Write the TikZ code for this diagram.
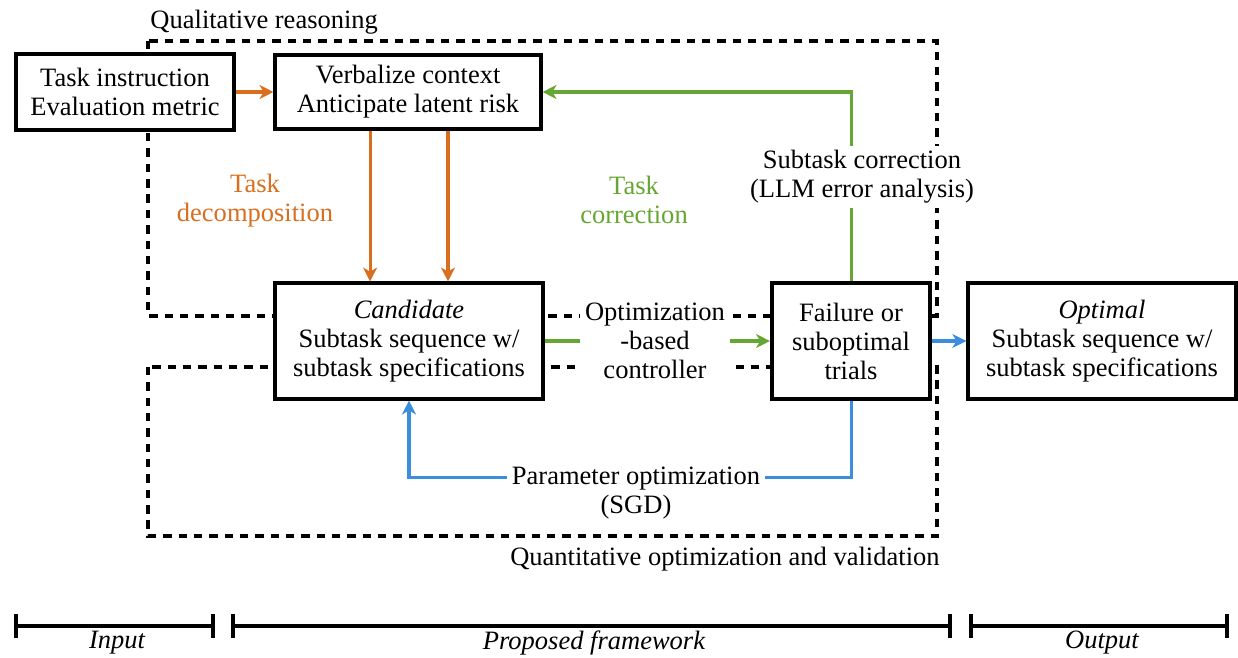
\documentclass[tikz,border=0pt]{standalone}
\usepackage{fontspec}
\setmainfont{Liberation Serif}
\usetikzlibrary{arrows.meta}
\definecolor{decorange}{RGB}{217,110,30}
\definecolor{corrgreen}{RGB}{102,166,50}
\definecolor{optblue}{RGB}{58,142,219}
\begin{document}
\begin{tikzpicture}[x=0.43pt,y=-0.43pt,font=\fontsize{11.4}{12.5}\selectfont,
    box/.style={draw,line width=1.7pt,fill=white,align=center,inner sep=0pt},
    region/.style={draw,line width=1.4pt,dash pattern=on 3.6pt off 3pt},
    flow/.style={line width=1.3pt,-{Stealth[length=6pt,width=6pt,inset=1.8pt]}},
    lbl/.style={fill=white,align=center,inner sep=2pt},
    span/.style={line width=1.7pt,{Bar[width=10pt]}-{Bar[width=10pt]}}]
            \useasboundingbox (0,0) rectangle (1238,657);
            % dashed regions
            \draw[region] (148,41) rectangle (937,316);
            \draw[region] (148,367) rectangle (937,536);
            \node [anchor=base west,inner sep=0pt] (qual) at (150,28) {Qualitative reasoning};
            \node [anchor=base east,inner sep=0pt] (quant) at (940,565) {Quantitative optimization and validation};
            % boxes
            \node [box,minimum width=94pt,minimum height=33pt] (inp)  at (125,92)  {Task instruction\\Evaluation metric};
            \node [box,minimum width=114pt,minimum height=32pt] (verb) at (408,92)  {Verbalize context\\Anticipate latent risk};
            \node [box,minimum width=115pt,minimum height=49.5pt] (cand) at (409,341) {\textit{Candidate}\\Subtask sequence w/\\subtask specifications};
            \node [box,minimum width=68pt,minimum height=49.5pt] (fail) at (851,341) {Failure or\\suboptimal\\trials};
            \node [box,minimum width=115pt,minimum height=49.5pt] (outp) at (1102,341) {\textit{Optimal}\\Subtask sequence w/\\subtask specifications};
            % connectors
            \draw[flow,decorange] (inp.east) -- (verb.west);
            \draw[flow,decorange] ([xshift=-16.3pt]verb.south) -- ([xshift=-16.3pt]verb.south |- cand.north);
            \draw[flow,decorange] ([xshift=17.2pt]verb.south) -- ([xshift=17.2pt]verb.south |- cand.north);
            \draw[flow,corrgreen] (fail.north) |- (verb.east);
            \draw[flow,corrgreen] (cand.east) -- (fail.west);
            \draw[flow,optblue] (fail.east) -- (outp.west);
            \draw[flow,optblue] (fail.south) -- ++(0,77) -| (cand.south);
            % labels
            \node [align=center,text=decorange] (decomp) at (255,201) {Task\\decomposition};
            \node [align=center,text=corrgreen] (tcorr) at (634,200) {Task\\correction};
            \node [lbl] (scorr) at (862,177) {Subtask correction\\(LLM error analysis)};
            \node [lbl] (ctrl)  at (655,341) {Optimization\\-based\\controller};
            \node [lbl] (param) at (636,493) {Parameter optimization\\(SGD)};
            % bottom spans
            \draw[span] (14,626) -- (215,626);
            \draw[span] (231,626) -- (952,626);
            \draw[span] (969,626) -- (1229,626);
            \node [font=\fontsize{11.4}{12.5}\selectfont\itshape] (lin)  at (117,643) {Input};
            \node [font=\fontsize{11.4}{12.5}\selectfont\itshape] (lfw)  at (594,643) {Proposed framework};
            \node [font=\fontsize{11.4}{12.5}\selectfont\itshape] (lout) at (1102,643) {Output};
\end{tikzpicture}
\end{document}
